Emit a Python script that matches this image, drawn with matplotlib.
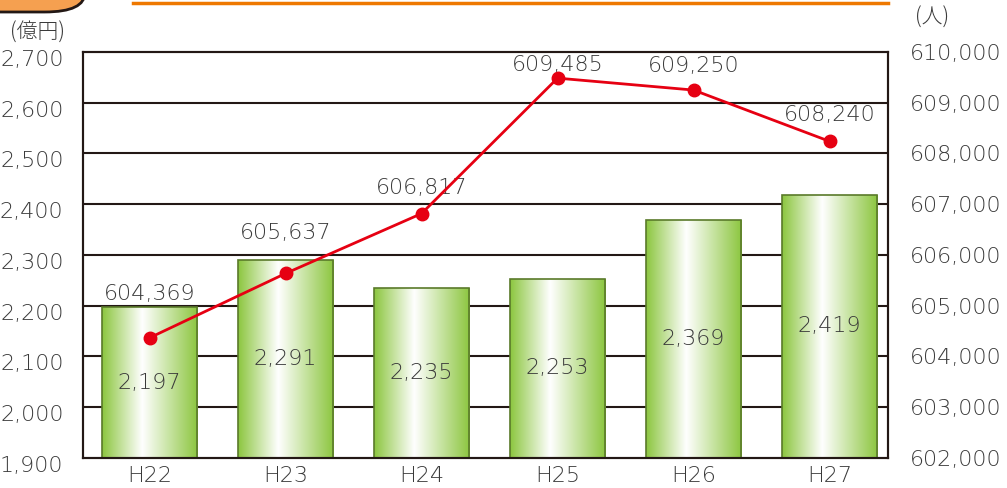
import matplotlib.pyplot as plt
import matplotlib.transforms as mtransforms
import numpy as np
from matplotlib.patches import FancyBboxPatch
from matplotlib.colors import LinearSegmentedColormap

plt.rcParams['font.family'] = ['DejaVu Sans', 'Noto Sans CJK JP']
plt.rcParams['font.weight'] = 'light'

years = ['H22', 'H23', 'H24', 'H25', 'H26', 'H27']
sales = [2197, 2291, 2235, 2253, 2369, 2419]          # 億円
population = [604369, 605637, 606817, 609485, 609250, 608240]  # 人
left_ticks = list(range(1900, 2701, 100))
right_ticks = list(range(602000, 610001, 1000))

txt = '#3a3a3a'
dark = '#231815'

fig = plt.figure(figsize=(10.07, 4.88), dpi=100)
ax = fig.add_axes([83/1007, 30/488, 805/1007, 406/488])
ax2 = ax.twinx()

x = np.arange(len(years))
bw = 0.70

# gridlines behind bars
for t in left_ticks[1:-1]:
    ax.axhline(t, color=dark, lw=1.5, zorder=1)

# gradient bars
cmap = LinearSegmentedColormap.from_list('g', [(0, '#8cc63f'), (0.42, '#ffffff'), (1, '#8cc63f')])
grad = np.linspace(0, 1, 256).reshape(1, -1)
bars = ax.bar(x, sales, width=bw, color='none', edgecolor='#5a7a2a', lw=1.2, zorder=3)
for b, v in zip(bars, sales):
    x0 = b.get_x()
    im = ax.imshow(grad, cmap=cmap, aspect='auto', extent=[x0, x0 + bw, 1900, v],
                   zorder=2, interpolation='bicubic')
    im.set_clip_path(b)
    ax.text(x0 + bw / 2, (1900 + v) / 2, f'{v:,}', ha='center', va='center',
            fontsize=16, color=txt, zorder=4)
ax.set_xlim(-0.49, 5.43)
ax.set_ylim(1900, 2700)

ax.set_yticks(left_ticks)
ax.set_yticklabels([f'{t:,}' for t in left_ticks], fontsize=16, color=txt)
ax.set_xticks(x)
ax.set_xticklabels(years, fontsize=16, color=txt)
ax.tick_params(axis='both', length=0)
ax.tick_params(axis='y', pad=14)
ax.tick_params(axis='x', pad=6)
shift = mtransforms.ScaledTranslation(0, -6/100, fig.dpi_scale_trans)
for lab in ax.get_yticklabels():
    lab.set_transform(lab.get_transform() + shift)

# population line
ax2.set_ylim(602000, 610000)
ax2.plot(x, population, color='#e60012', lw=2, marker='o', ms=9, zorder=5)
offsets = [44, 40, 26, 13, 24, 26]
for xi, p, o in zip(x, population, offsets):
    ax2.annotate(f'{p:,}', (xi, p), xytext=(0, o * 0.72), textcoords='offset points',
                 ha='center', va='center', fontsize=16, color=txt)
ax2.set_yticks(right_ticks)
ax2.set_yticklabels([f'{t:,}' for t in right_ticks], fontsize=16, color=txt)
ax2.tick_params(axis='y', length=0, pad=16)

for a in (ax, ax2):
    for s in a.spines.values():
        s.set_color(dark)
        s.set_linewidth(1.5)

fig.text(38/1007, 1 - 33/488, '(億円)', ha='center', va='center', fontsize=15,
         color=txt, family=['Noto Sans CJK JP', 'DejaVu Sans'])
fig.text(932/1007, 1 - 18/488, '(人)', ha='center', va='center', fontsize=15,
         color=txt, family=['Noto Sans CJK JP', 'DejaVu Sans'])

# decoration: orange line and badge at top
fig.add_artist(plt.Line2D([133/1007, 888/1007], [1 - 3/488, 1 - 3/488], color='#ee7800', lw=2.5))
badge = FancyBboxPatch((-40/1007, 1 - 12/488), 125/1007, 40/488,
                       boxstyle='round,pad=0,rounding_size=0.04', transform=fig.transFigure,
                       facecolor='#f5a050', edgecolor=dark, lw=2)
fig.add_artist(badge)

fig.savefig('out.png', dpi=100)
